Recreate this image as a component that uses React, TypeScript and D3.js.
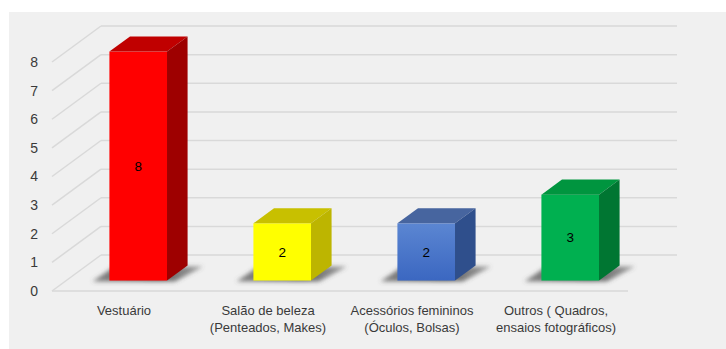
import React from "react";
import * as d3 from "d3";

const categories = [
  ["Vestuário"],
  ["Salão de beleza", "(Penteados, Makes)"],
  ["Acessórios femininos", "(Óculos, Bolsas)"],
  ["Outros ( Quadros,", "ensaios fotográficos)"],
];
const values = [8, 2, 2, 3];
const ticks = [0, 1, 2, 3, 4, 5, 6, 7, 8];
const faceColors = [
  { front: "#ff0000", front2: "#ff0000", top: "#c00000", side: "#9e0000" },
  { front: "#ffff00", front2: "#ffff00", top: "#c8c000", side: "#bdb500" },
  { front: "#5b86d2", front2: "#3b67c1", top: "#47659f", side: "#2f4f8c" },
  { front: "#00b050", front2: "#00b050", top: "#00953f", side: "#007632" },
];

const W = 726;
const H = 349;
const FX0 = 52;
const FX1 = 628;
const DX = 49; // floor depth in x
const DY = -36; // floor depth in y
const F1 = 0.29; // bar front plane depth fraction
const F2 = 0.71; // bar back plane depth fraction
const FONT = "'Liberation Sans', Arial, sans-serif";

export default function App() {
  const y = d3.scaleLinear().domain([0, 8]).range([291, 62]);
  const keys = categories.map((c, i) => String(i));
  const x = d3.scaleBand().domain(keys).range([FX0, FX1]).paddingInner(0.6).paddingOuter(0.3);
  const bw = x.bandwidth();
  const xc = d3.scaleBand().domain(keys).range([FX0, FX1]);

  return (
    <svg
      width={W}
      height={H}
      style={{ position: "absolute", left: 0, top: 0, background: "#fff" }}
      fontFamily={FONT}
    >
      <defs>
        <filter id="blur" x="-30%" y="-100%" width="160%" height="300%">
          <feGaussianBlur stdDeviation="2.2" />
        </filter>
        <linearGradient id="shadowGrad" x1="0" x2="1" y1="0" y2="0">
          <stop offset="0%" stopColor="#555" stopOpacity={0.7} />
          <stop offset="60%" stopColor="#444" stopOpacity={0.85} />
          <stop offset="100%" stopColor="#555" stopOpacity={0.5} />
        </linearGradient>
        {faceColors.map((c, i) => (
          <linearGradient key={i} id={`front${i}`} x1="0" x2="0" y1="0" y2="1">
            <stop offset="0%" stopColor={c.front} />
            <stop offset="100%" stopColor={c.front2} />
          </linearGradient>
        ))}
      </defs>
      <rect x={9} y={12} width={W - 9} height={H - 12} fill="#f0f0f0" />

      {/* back wall gridlines + diagonals */}
      {ticks.map((t) => (
        <g key={t} stroke="#d9d9d9" strokeWidth={1.5} fill="none">
          <line x1={FX0} y1={y(t)} x2={FX0 + DX} y2={y(t) + DY} />
          <line x1={FX0 + DX} y1={y(t) + DY} x2={FX1 + DX} y2={y(t) + DY} />
        </g>
      ))}
      {/* floor front edge */}
      <line x1={FX0} y1={y(0)} x2={FX1} y2={y(0)} stroke="#d9d9d9" strokeWidth={1.5} />

      {/* tick labels */}
      {ticks.map((t) => (
        <text key={t} x={38} y={y(t)} dy="0.35em" textAnchor="end" fontSize={14} fill="#3a3a3a">
          {t}
        </text>
      ))}

      {/* shadows */}
      {values.map((v, i) => {
        const x0 = (x(keys[i]) as number) + DX * F1;
        const yb = y(0) + DY * F1;
        const ybk = y(0) + DY * F2;
        const pts = [
          [x0 - 17, yb + 1],
          [x0 + bw + 8, yb + 1],
          [x0 + bw + 36, ybk + 1],
          [x0 + 5, ybk + 1],
        ];
        return (
          <polygon
            key={i}
            points={pts.map((p) => p.join(",")).join(" ")}
            fill="url(#shadowGrad)"
            filter="url(#blur)"
          />
        );
      })}

      {/* bars */}
      {values.map((v, i) => {
        const c = faceColors[i];
        const x0 = (x(keys[i]) as number) + DX * F1;
        const x1 = x0 + bw;
        const yb = y(0) + DY * F1;
        const yt = y(v) + DY * F1;
        const ddx = DX * (F2 - F1);
        const ddy = DY * (F2 - F1);
        const top = [
          [x0, yt],
          [x1, yt],
          [x1 + ddx, yt + ddy],
          [x0 + ddx, yt + ddy],
        ];
        const side = [
          [x1, yt],
          [x1 + ddx, yt + ddy],
          [x1 + ddx, yb + ddy],
          [x1, yb],
        ];
        return (
          <g key={i}>
            <rect x={x0} y={yt} width={bw} height={yb - yt} fill={`url(#front${i})`} />
            <polygon points={top.map((p) => p.join(",")).join(" ")} fill={c.top} />
            <polygon points={side.map((p) => p.join(",")).join(" ")} fill={c.side} />
            <text
              x={x0 + bw / 2}
              y={(yt + yb) / 2}
              dy="0.35em"
              textAnchor="middle"
              fontSize={13.5}
              fill="#000"
            >
              {v}
            </text>
          </g>
        );
      })}

      {/* category labels */}
      {categories.map((lines, i) => {
        const cx = (xc(keys[i]) as number) + xc.bandwidth() / 2;
        return (
          <text key={i} textAnchor="middle" fontSize={13} fill="#3a3a3a">
            {lines.map((l, j) => (
              <tspan key={j} x={cx} y={315 + j * 17}>
                {l}
              </tspan>
            ))}
          </text>
        );
      })}
    </svg>
  );
}
